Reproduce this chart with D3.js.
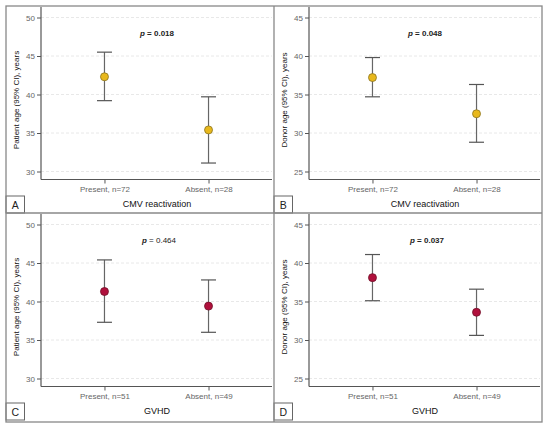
<!DOCTYPE html>
<html>
<head>
<meta charset="utf-8">
<style>
html, body { margin: 0; padding: 0; background: #fff; }
svg { display: block; font-family: "Liberation Sans", Arial, sans-serif; }
</style>
</head>
<body>
<svg width="550" height="428"></svg>
<script src="https://d3js.org/d3.v7.min.js"></script>
<script>
// values
var cmvGroups = ["Present, n=72", "Absent, n=28"];
var gvhdGroups = ["Present, n=51", "Absent, n=49"];

var patientCmvMean = [42.3, 35.4];
var patientCmvLow = [39.2, 31.1];
var patientCmvHigh = [45.5, 39.7];

var donorCmvMean = [37.2, 32.5];
var donorCmvLow = [34.7, 28.8];
var donorCmvHigh = [39.8, 36.3];

var patientGvhdMean = [41.3, 39.4];
var patientGvhdLow = [37.3, 36.0];
var patientGvhdHigh = [45.4, 42.8];

var donorGvhdMean = [38.1, 33.6];
var donorGvhdLow = [35.1, 30.6];
var donorGvhdHigh = [41.1, 36.6];

var patientTicks = [30, 35, 40, 45, 50];
var donorTicks = [25, 30, 35, 40, 45];

var panels = [
  {letter: "A", col: 0, row: 0, groups: cmvGroups, mean: patientCmvMean, low: patientCmvLow, high: patientCmvHigh,
   ticks: patientTicks, ytitle: "Patient age (95% CI), years", xtitle: "CMV reactivation", p: "0.018", bold: true, color: "#e8b81c", edge: "#8a7420"},
  {letter: "B", col: 1, row: 0, groups: cmvGroups, mean: donorCmvMean, low: donorCmvLow, high: donorCmvHigh,
   ticks: donorTicks, ytitle: "Donor age (95% CI), years", xtitle: "CMV reactivation", p: "0.048", bold: true, color: "#e8b81c", edge: "#8a7420"},
  {letter: "C", col: 0, row: 1, groups: gvhdGroups, mean: patientGvhdMean, low: patientGvhdLow, high: patientGvhdHigh,
   ticks: patientTicks, ytitle: "Patient age (95% CI), years", xtitle: "GVHD", p: "0.464", bold: false, color: "#b0103c", edge: "#701028"},
  {letter: "D", col: 1, row: 1, groups: gvhdGroups, mean: donorGvhdMean, low: donorGvhdLow, high: donorGvhdHigh,
   ticks: donorTicks, ytitle: "Donor age (95% CI), years", xtitle: "GVHD", p: "0.037", bold: true, color: "#b0103c", edge: "#701028"}
];

var svg = d3.select("svg");
var frame = {left: 6, top: 6, right: 542, bottom: 422, midX: 274, midY: 213};
var pw = frame.midX - frame.left, ph = frame.midY - frame.top;

panels.forEach(function(p) {
  var g = svg.append("g")
    .attr("transform", "translate(" + (frame.left + p.col * pw) + "," + (frame.top + p.row * ph) + ")");

  var axisLeft = 35, axisRight = 266, axisTop = 1, axisBottom = 173.5;
  var tMin = d3.min(p.ticks), tMax = d3.max(p.ticks);
  var y = d3.scaleLinear().domain([tMin, tMax]).range([165.5, 11.5]);
  var x = d3.scalePoint().domain(p.groups).range([axisLeft, axisRight]).padding(0.61);

  // gridlines
  g.selectAll(".grid").data(p.ticks).enter().append("line")
    .attr("x1", axisLeft).attr("x2", axisRight)
    .attr("y1", function(d) { return y(d); }).attr("y2", function(d) { return y(d); })
    .attr("stroke", "#e2e2e2").attr("stroke-dasharray", "3,2").attr("stroke-width", 0.8);

  // y axis
  var ya = g.append("g").attr("transform", "translate(" + axisLeft + ",0)")
    .call(d3.axisLeft(y).tickValues(p.ticks).tickSize(4).tickPadding(2));
  ya.select(".domain").remove();
  ya.selectAll("line").attr("stroke", "#555");
  ya.selectAll("text").attr("fill", "#666").attr("font-size", "8px");
  g.append("line").attr("x1", axisLeft).attr("x2", axisLeft).attr("y1", axisTop).attr("y2", axisBottom)
    .attr("stroke", "#555").attr("stroke-width", 1.2);

  // x axis
  var xa = g.append("g").attr("transform", "translate(0," + axisBottom + ")")
    .call(d3.axisBottom(x).tickSize(4).tickPadding(3));
  xa.select(".domain").remove();
  xa.selectAll("line").attr("stroke", "#555");
  xa.selectAll("text").attr("fill", "#666").attr("font-size", "8px");
  g.append("line").attr("x1", axisLeft).attr("x2", axisRight).attr("y1", axisBottom).attr("y2", axisBottom)
    .attr("stroke", "#555").attr("stroke-width", 1.2);

  // error bars
  var rows = p.groups.map(function(d, i) { return {g: d, m: p.mean[i], lo: p.low[i], hi: p.high[i]}; });
  var bars = g.selectAll(".bar").data(rows).enter().append("g");
  bars.append("line")
    .attr("x1", function(d) { return x(d.g); }).attr("x2", function(d) { return x(d.g); })
    .attr("y1", function(d) { return y(d.lo); }).attr("y2", function(d) { return y(d.hi); })
    .attr("stroke", "#666").attr("stroke-width", 1.2);
  [function(d) { return y(d.lo); }, function(d) { return y(d.hi); }].forEach(function(fy) {
    bars.append("line")
      .attr("x1", function(d) { return x(d.g) - 7.5; }).attr("x2", function(d) { return x(d.g) + 7.5; })
      .attr("y1", fy).attr("y2", fy)
      .attr("stroke", "#555").attr("stroke-width", 1.2);
  });
  bars.append("circle")
    .attr("cx", function(d) { return x(d.g); }).attr("cy", function(d) { return y(d.m); })
    .attr("r", 4).attr("fill", p.color).attr("stroke", p.edge).attr("stroke-width", 0.8);

  // p value
  var pt = g.append("text").attr("x", p.row === 0 ? 151 : 153).attr("y", 30)
    .attr("text-anchor", "middle").attr("font-size", "8px").attr("fill", "#222")
    .attr("font-weight", p.bold ? "bold" : "normal");
  pt.append("tspan").attr("font-style", "italic").attr("font-weight", "bold").text("p");
  pt.append("tspan").text(" = " + p.p);

  // axis titles
  g.append("text").attr("transform", "translate(13,94) rotate(-90)")
    .attr("text-anchor", "middle").attr("font-size", "8px").attr("fill", "#111").text(p.ytitle);
  g.append("text").attr("x", 151).attr("y", 200.5)
    .attr("text-anchor", "middle").attr("font-size", "9px").attr("fill", "#111").text(p.xtitle);

  // panel letter box
  g.append("rect").attr("x", 0).attr("y", 190).attr("width", 18.5).attr("height", 17)
    .attr("fill", "#fff").attr("stroke", "#666").attr("stroke-width", 1);
  g.append("text").attr("x", 9.25).attr("y", 202.5).attr("text-anchor", "middle")
    .attr("font-size", "10.5px").attr("fill", "#222").text(p.letter);
});

// outer frame and dividers
svg.append("rect").attr("x", frame.left).attr("y", frame.top)
  .attr("width", frame.right - frame.left).attr("height", frame.bottom - frame.top)
  .attr("fill", "none").attr("stroke", "#888").attr("stroke-width", 1.3);
svg.append("line").attr("x1", frame.midX).attr("x2", frame.midX).attr("y1", frame.top).attr("y2", frame.bottom)
  .attr("stroke", "#888").attr("stroke-width", 1.3);
svg.append("line").attr("x1", frame.left).attr("x2", frame.right).attr("y1", frame.midY).attr("y2", frame.midY)
  .attr("stroke", "#888").attr("stroke-width", 1.3);
</script>
</body>
</html>
